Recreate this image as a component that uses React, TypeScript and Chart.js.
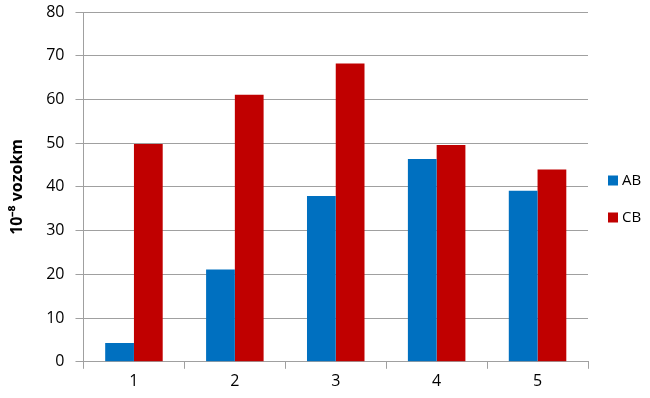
import React, { useEffect, useRef } from "react";
import { Chart, registerables } from "chart.js";

Chart.register(...registerables);

const categories = ["1", "2", "3", "4", "5"];
const abValues = [4.3, 21.1, 37.9, 46.4, 39.1];
const cbValues = [49.8, 61.1, 68.2, 49.6, 44.0];
const seriesNames = ["AB", "CB"];
const seriesColors = ["#0070C0", "#C00000"];
const yTitle = "10⁻⁸ vozokm";

const FONT = "Open Sans, Liberation Sans, sans-serif";

const rightLegend = {
  id: "rightLegend",
  afterDraw(chart: any) {
    const ctx = chart.ctx;
    const ds = chart.data.datasets;
    const rowGap = 37;
    const x0 = chart.chartArea.right + 20;
    const cy = chart.height / 2;
    const startY = cy - ((ds.length - 1) * rowGap) / 2;
    ctx.save();
    ctx.font = `15px ${FONT}`;
    ctx.textBaseline = "middle";
    ctx.textAlign = "left";
    ds.forEach((d: any, i: number) => {
      const y = startY + i * rowGap;
      ctx.fillStyle = d.backgroundColor;
      ctx.fillRect(x0, y - 5, 10, 10);
      ctx.fillStyle = "#000";
      ctx.fillText(d.label, x0 + 14, y);
    });
    ctx.restore();
  },
};

export default function App() {
  const ref = useRef<HTMLCanvasElement | null>(null);
  useEffect(() => {
    document.body.style.margin = "0";
    const chart = new Chart(ref.current!, {
      type: "bar",
      data: {
        labels: categories,
        datasets: [
          { label: seriesNames[0], data: abValues, backgroundColor: seriesColors[0], barPercentage: 1, categoryPercentage: 0.57 },
          { label: seriesNames[1], data: cbValues, backgroundColor: seriesColors[1], barPercentage: 1, categoryPercentage: 0.57 },
        ],
      },
      options: {
        animation: false,
        responsive: false,
        layout: { padding: { top: 12, right: 62, left: 0, bottom: 4 } },
        plugins: {
          tooltip: { enabled: false },
          legend: { display: false },
        },
        scales: {
          x: {
            grid: { display: true, offset: true, drawOnChartArea: false, tickLength: 7, color: "#A0A0A0" },
            border: { color: "#A0A0A0" },
            ticks: { color: "#000", font: { family: FONT, size: 16 }, padding: 3 },
          },
          y: {
            min: 0,
            max: 80,
            afterFit: (scale: any) => {
              scale.paddingTop = 0;
            },
            ticks: { stepSize: 10, color: "#000", font: { family: FONT, size: 16 }, padding: 11 },
            grid: { color: "#A0A0A0", tickLength: 8 },
            border: { color: "#A0A0A0" },
            title: { display: true, text: yTitle, color: "#000", font: { family: FONT, size: 16, weight: "bold" }, padding: 8 },
          },
        },
      },
      plugins: [rightLegend],
    });
    return () => chart.destroy();
  }, []);
  return (
    <div style={{ width: 650, height: 398 }}>
      <canvas ref={ref} width={650} height={398} />
    </div>
  );
}
